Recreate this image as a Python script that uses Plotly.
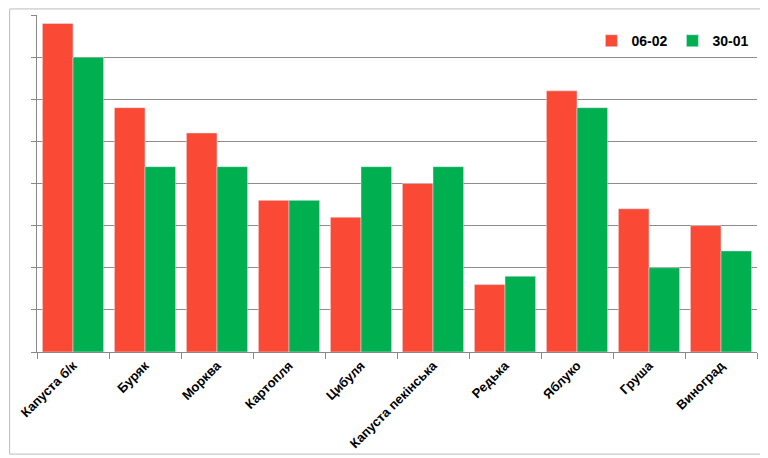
import plotly.graph_objects as go

categories = ["Капуста б/к", "Буряк", "Морква", "Картопля", "Цибуля",
              "Капуста пекінська", "Редька", "Яблуко", "Груша", "Виноград"]
values_0602 = [39, 29, 26, 18, 16, 20, 8, 31, 17, 15]
values_3001 = [35, 22, 22, 18, 22, 22, 9, 29, 10, 12]

fig = go.Figure()
fig.add_trace(go.Bar(x=categories, y=values_0602, name="06-02", marker_color="#FA4A36"))
fig.add_trace(go.Bar(x=categories, y=values_3001, name="30-01", marker_color="#00B050"))

fig.update_layout(
    width=760, height=450,
    margin=dict(l=29, r=11, t=7, b=104),
    plot_bgcolor="white", paper_bgcolor="white",
    barmode="group", bargap=0.15, bargroupgap=0,
    font=dict(family="Liberation Sans, Arial", size=12, color="black"),
    legend=dict(orientation="h", x=0.77, y=0.97, xanchor="left", yanchor="top",
                font=dict(size=14, family="Liberation Sans, Arial", weight="bold"),
                bgcolor="rgba(0,0,0,0)"),
    xaxis=dict(tickangle=-45, ticks="outside", tickson="boundaries", ticklen=6,
               tickcolor="#888", showline=True, linecolor="#888",
               tickfont=dict(size=13, family="Liberation Sans, Arial", weight="bold")),
    yaxis=dict(range=[0, 40], dtick=5, showticklabels=False, showgrid=True,
               gridcolor="#8c8c8c", gridwidth=1, showline=True, linecolor="#888",
               ticks="outside", ticklen=5, tickcolor="#888", zeroline=False),
)
fig.add_shape(type="rect", xref="paper", yref="paper", x0=-0.038, x1=1.012, y0=-0.303, y1=1.018,
              line=dict(color="#bbbbbb", width=1))
fig.write_html("out.html")
